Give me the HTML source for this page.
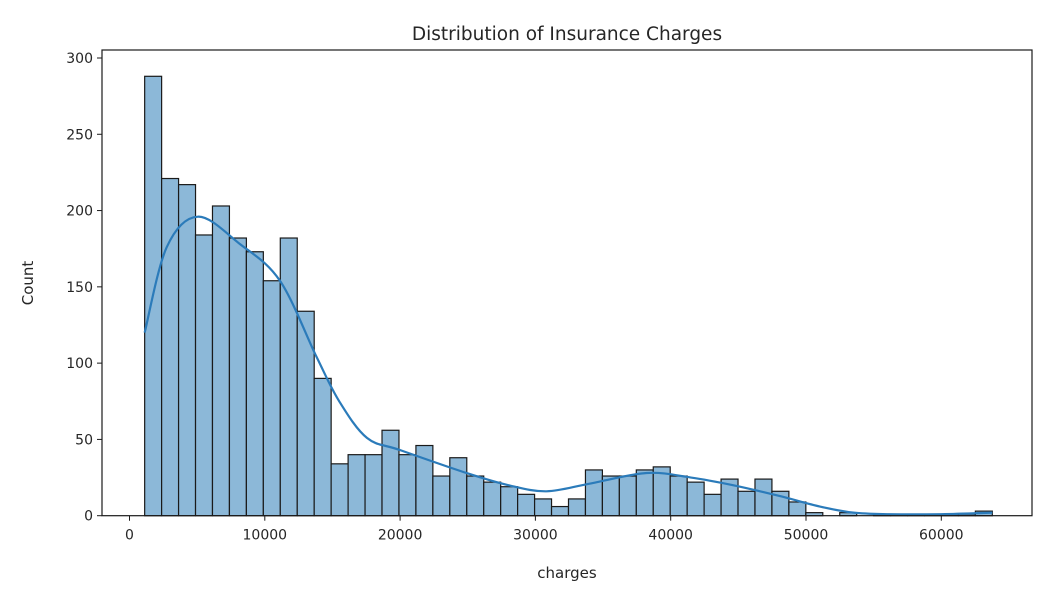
<!DOCTYPE html>
<html><head><meta charset="utf-8"><style>
html,body{margin:0;padding:0;background:#fff;}
svg{display:block;font-family:"DejaVu Sans","Liberation Sans",sans-serif;}
</style></head><body>
<svg id="chart" width="1048" height="598" viewBox="0 0 1048 598" xmlns="http://www.w3.org/2000/svg">
<text x="567" y="40" font-size="18.5" text-anchor="middle" fill="#262626">Distribution of Insurance Charges</text>
<text x="567" y="578" font-size="15" text-anchor="middle" fill="#262626">charges</text>
<text x="0" y="0" font-size="15" text-anchor="middle" fill="#262626" transform="translate(33,283) rotate(-90)">Count</text>
<g id="bars"></g>
<path id="kde" fill="none" stroke="#2b7bba" stroke-width="2.2"></path>
<g id="axes"></g>
</svg>
<script>
const binStart = 1121;
const binWidth = 1253;
const counts = [288,221,217,184,203,182,173,154,182,134,90,34,40,40,56,40,46,26,38,26,22,19,14,11,6,11,30,26,26,30,32,26,22,14,24,16,24,16,9,2,0,2,0,1,1,1,1,1,1,3];
const kdeX = [1121,2750,5060,8170,11120,13830,15500,17550,20000,24900,28000,30830,34000,38220,41500,44600,48000,51030,53500,56000,60000,63770];
const kdeY = [120,176,196,178,154,104,75,51,43,28,20,16,21,28,25,20,13,6,2,1,1,2];
const xTicks = [0,10000,20000,30000,40000,50000,60000];
const yTicks = [0,50,100,150,200,250,300];

const L=102,R=1032,T=50,B=515.7;
function xs(v){return 129.5+v*0.013530;}
function ys(v){return B-v*1.5257;}
const NS="http://www.w3.org/2000/svg";
const bars=document.getElementById('bars');
counts.forEach((c,i)=>{
  const x0=xs(binStart+i*binWidth), x1=xs(binStart+(i+1)*binWidth);
  const r=document.createElementNS(NS,'rect');
  r.setAttribute('x',x0);r.setAttribute('y',ys(c));
  r.setAttribute('width',x1-x0);r.setAttribute('height',B-ys(c));
  r.setAttribute('fill','#8cb8d8');r.setAttribute('stroke','#1a1a1a');r.setAttribute('stroke-width','1.2');
  
  
  bars.appendChild(r);
});
// KDE catmull-rom
const pts=kdeX.map((x,i)=>[xs(x),ys(kdeY[i])]);
let d='M'+pts[0][0]+','+pts[0][1];
for(let i=0;i<pts.length-1;i++){
  const p0=pts[Math.max(0,i-1)],p1=pts[i],p2=pts[i+1],p3=pts[Math.min(pts.length-1,i+2)];
  const c1=[p1[0]+(p2[0]-p0[0])/6,p1[1]+(p2[1]-p0[1])/6];
  const c2=[p2[0]-(p3[0]-p1[0])/6,p2[1]-(p3[1]-p1[1])/6];
  d+=' C'+c1[0]+','+c1[1]+' '+c2[0]+','+c2[1]+' '+p2[0]+','+p2[1];
}
document.getElementById('kde').setAttribute('d',d);
const ax=document.getElementById('axes');
const frame=document.createElementNS(NS,'rect');
frame.setAttribute('x',L);frame.setAttribute('y',T);frame.setAttribute('width',R-L);frame.setAttribute('height',B-T);
frame.setAttribute('fill','none');frame.setAttribute('stroke','#1a1a1a');frame.setAttribute('stroke-width','1.2');


ax.appendChild(frame);
xTicks.forEach(v=>{
  const l=document.createElementNS(NS,'line');
  l.setAttribute('x1',xs(v));l.setAttribute('x2',xs(v));l.setAttribute('y1',B);l.setAttribute('y2',B+5);
  l.setAttribute('stroke','#1a1a1a');
  
  
  ax.appendChild(l);
  const t=document.createElementNS(NS,'text');
  t.setAttribute('x',xs(v));t.setAttribute('y',B+24);t.setAttribute('font-size','14');
  t.setAttribute('text-anchor','middle');t.setAttribute('fill','#262626');
  t.textContent=v;
  
  
  ax.appendChild(t);
});
yTicks.forEach(v=>{
  const l=document.createElementNS(NS,'line');
  l.setAttribute('x1',L-5);l.setAttribute('x2',L);l.setAttribute('y1',ys(v));l.setAttribute('y2',ys(v));
  l.setAttribute('stroke','#1a1a1a');
  
  
  ax.appendChild(l);
  const t=document.createElementNS(NS,'text');
  t.setAttribute('x',L-9);t.setAttribute('y',ys(v)+5);t.setAttribute('font-size','14');
  t.setAttribute('text-anchor','end');t.setAttribute('fill','#262626');
  t.textContent=v;
  
  
  ax.appendChild(t);
});
</script>
</body></html>
